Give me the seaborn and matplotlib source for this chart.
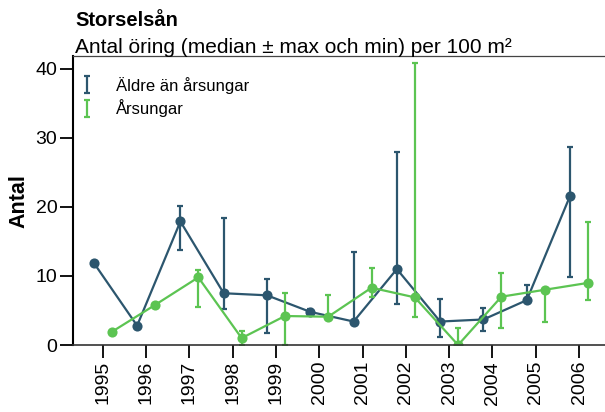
import numpy as np
import pandas as pd
import matplotlib
matplotlib.use("Agg")
import matplotlib.pyplot as plt
import seaborn as sns

years = [1995, 1996, 1997, 1998, 1999, 2000, 2001, 2002, 2003, 2004, 2005, 2006]

# Äldre än årsungar
aldre_median = [11.9, 2.8, 17.9, 7.5, 7.2, 4.8, 3.4, 11.0, 3.4, 3.7, 6.5, 21.6]
aldre_min = [11.9, 2.8, 13.7, 5.2, 1.8, 4.8, 3.4, 5.9, 1.1, 2.0, 6.5, 9.8]
aldre_max = [11.9, 2.8, 20.2, 18.4, 9.6, 5.2, 13.5, 27.9, 6.7, 5.4, 8.7, 28.7]

# Årsungar
ars_median = [1.9, 5.8, 9.8, 1.0, 4.2, 4.1, 8.3, 6.9, 0.0, 7.0, 8.0, 9.0]
ars_min = [1.9, 5.8, 5.5, 0.0, 0.0, 4.1, 6.9, 4.0, 0.0, 2.4, 3.4, 6.5]
ars_max = [1.9, 5.8, 10.8, 2.1, 7.6, 7.3, 11.2, 40.9, 2.4, 10.5, 8.0, 17.8]

series = ["Äldre än årsungar", "Årsungar"]
colors = ["#2c566e", "#5cc452"]
offsets = [-0.207, 0.207]

sns.set_style("ticks")
plt.rcParams["font.family"] = ["Liberation Sans", "DejaVu Sans"]
plt.rcParams["text.color"] = "black"
plt.rcParams["axes.labelcolor"] = "black"
plt.rcParams["xtick.color"] = "black"
plt.rcParams["ytick.color"] = "black"

pos = np.arange(len(years))
frames = []
for name, med, lo, hi, off in zip(series, [aldre_median, ars_median],
                                   [aldre_min, ars_min], [aldre_max, ars_max], offsets):
    frames.append(pd.DataFrame({"grupp": name, "x": pos + off, "median": med,
                                "min": lo, "max": hi}))
df = pd.concat(frames, ignore_index=True)

fig = plt.figure(figsize=(6.05, 4.12), dpi=100)
ax = fig.add_axes([0.1212, 0.1626, 0.8788, 0.7003])

for name, c in zip(series, colors):
    sub = df[df["grupp"] == name]
    sns.lineplot(data=sub, x="x", y="median", color=c, marker="o", markersize=7.3,
                 markeredgewidth=0, linewidth=1.6, legend=False, ax=ax)
    ax.errorbar(sub["x"], sub["median"],
                yerr=[sub["median"] - sub["min"], sub["max"] - sub["median"]],
                fmt="none", ecolor=c, elinewidth=1.6, capsize=2.5, capthick=1.6,
                label=name)

ax.set_xlim(-0.68, 11.6)
ax.set_ylim(0, 41.8)
ax.set_xticks(pos)
ax.set_xticklabels(years, rotation=90)
ax.set_yticks([0, 10, 20, 30, 40])
ax.tick_params(length=9.5, width=1.3, pad=2, labelsize=14, color="black",
               labelcolor="black")
ax.set_xlabel("")
ax.set_ylabel("Antal", fontsize=15.5, fontweight="bold", color="black")
ax.yaxis.set_label_coords(-0.083, 0.5)

ax.spines["right"].set_visible(False)
ax.spines["left"].set_linewidth(1.5)
ax.spines["left"].set_color("black")
ax.spines["bottom"].set_linewidth(1.2)
ax.spines["bottom"].set_color("#333333")
ax.spines["top"].set_linewidth(0.9)
ax.spines["top"].set_color("#444444")

leg = ax.legend(loc="upper left", bbox_to_anchor=(0.01, 0.93), frameon=False,
                fontsize=12, handlelength=1.0, handletextpad=1.25, borderpad=0,
                borderaxespad=0, labelspacing=0.35)
for t in leg.get_texts():
    t.set_color("black")

fig.text(75 / 605, 1 - 26 / 412, "Storselsån", fontsize=14.5, fontweight="bold",
         va="baseline", color="black")
fig.text(75 / 605, 1 - 53 / 412, "Antal öring (median ± max och min) per 100 m²",
         fontsize=15, va="baseline", color="black")

fig.savefig("out.png", dpi=100)
